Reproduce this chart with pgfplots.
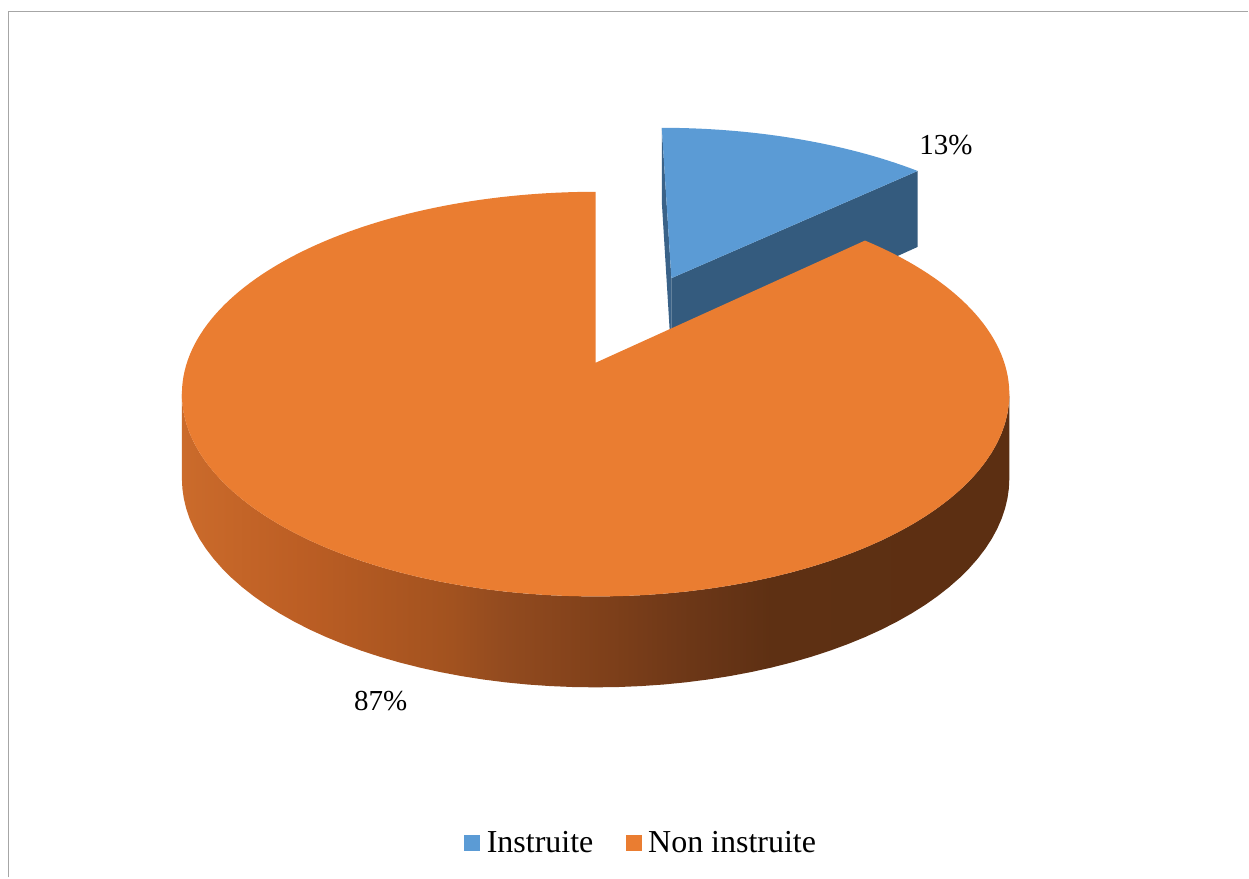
\documentclass[border=0pt]{standalone}
\usepackage{fontspec}
\setmainfont{Liberation Serif}
\usepackage{pgfplots}
\pgfplotsset{compat=1.18}
\usepackage{pgfplotstable}

\definecolor{blueTop}{HTML}{5B9BD5}
\definecolor{blueSide}{HTML}{345B7E}
\definecolor{blueSideB}{HTML}{3A6288}
\definecolor{orangeTop}{HTML}{EA7D31}
\definecolor{frameGray}{HTML}{A6A6A6}
\definecolor{osA}{HTML}{CB6B2B}
\definecolor{osB}{HTML}{BC5E24}
\definecolor{osC}{HTML}{A2521F}
\definecolor{osD}{HTML}{934B1F}
\definecolor{osE}{HTML}{7F401A}
\definecolor{osF}{HTML}{6A3617}
\definecolor{osG}{HTML}{5E3013}
\definecolor{osH}{HTML}{5C2F12}

\pgfdeclarehorizontalshading{orangeside}{100bp}{color(0bp)=(osA); color(25bp)=(osA); color(32.2bp)=(osB); color(41.3bp)=(osC); color(44.3bp)=(osD); color(50.4bp)=(osE); color(56.4bp)=(osF); color(60.6bp)=(osG); color(75bp)=(osH); color(100bp)=(osH)}

% perspective projection of the pie plane (image pixels, y upwards)
\tikzset{declare function={
  SX(\X,\Z)=596+409*\X/(1+0.155*\Z);
  SY(\X,\Z)=515+197.6*\Z/(1+0.155*\Z);
  SB(\X,\Z)=515+197.6*\Z/(1+0.155*\Z)-83.3/(1+0.0842*\Z);
  WR(\t)=ifthenelse(\t<0,0,1);
  WTH(\t,\a,\b,\n)=\a+max(\t,0)*(\b-\a)/\n;
  OTH(\t)=ifthenelse(\t<60.5,98.9+\t*2.70333,261.1-(\t-61)*2.70333);
}}

\pgfplotstableread[col sep=comma,row sep=\\]{label,value\\Instruite,13\\Non instruite,87\\}\piedata
\pgfplotstablegetelem{0}{value}\of\piedata \let\vA\pgfplotsretval
\pgfplotstablegetelem{1}{value}\of\piedata \let\vB\pgfplotsretval
\pgfplotstablegetelem{0}{label}\of\piedata \let\lA\pgfplotsretval
\pgfplotstablegetelem{1}{label}\of\piedata \let\lB\pgfplotsretval

\pgfmathsetmacro\angA{360*\vA/(\vA+\vB)}
\pgfmathsetmacro\angM{\angA/2}
\pgfmathsetmacro\ox{0.5*sin(\angM)}
\pgfmathsetmacro\oz{0.5*cos(\angM)}
\pgfmathsetmacro\rX{\ox+sin(\angA)}
\pgfmathsetmacro\rZ{\oz+cos(\angA)}
\pgfmathsetmacro\fX{\ox}
\pgfmathsetmacro\fZ{\oz+1}
\pgfmathsetmacro\cTx{SX(\ox,\oz)}
\pgfmathsetmacro\cTy{SY(\ox,\oz)}
\pgfmathsetmacro\cBy{SB(\ox,\oz)}
\pgfmathsetmacro\rTx{SX(\rX,\rZ)}
\pgfmathsetmacro\rTy{SY(\rX,\rZ)}
\pgfmathsetmacro\rBy{SB(\rX,\rZ)}
\pgfmathsetmacro\fTx{SX(\fX,\fZ)}
\pgfmathsetmacro\fTy{SY(\fX,\fZ)}
\pgfmathsetmacro\fBy{SB(\fX,\fZ)}

\begin{document}
\begin{tikzpicture}
\begin{axis}[
  scale only axis, width=624.5pt, height=439pt,
  xmin=0, xmax=1249, ymin=0, ymax=878,
  hide axis, clip=false,
  legend style={draw=none, fill=none, at={(0.5155,0.0387)}, anchor=center,
    legend columns=2, font=\fontsize{16}{19}\selectfont,
    /tikz/every even column/.append style={column sep=13pt},
    inner sep=0pt, nodes={inner sep=3.2pt}, cells={anchor=west}},
  legend image code/.code={\fill[#1] (0pt,-4pt) rectangle (8pt,4pt);},
]
\path (axis cs:0,0) rectangle (axis cs:1249,878);
\draw[frameGray, line width=0.8pt] (axis cs:8.5,0) -- (axis cs:8.5,866.5) -- (axis cs:1249,866.5);

% exploded blue slice: radial faces
\addplot[fill=blueSideB, draw=none, forget plot] coordinates {(\cTx,\cTy) (\fTx,\fTy) (\fTx,\fBy) (\cTx,\cBy)};
\addplot[fill=blueSide, draw=none, forget plot] coordinates {(\cTx,\cTy) (\rTx,\rTy) (\rTx,\rBy) (\cTx,\cBy)};
% blue top face
\addplot[fill=blueTop, draw=none, variable=\t, samples at={-1,0,1,...,60}]
  ({SX(\ox+WR(\t)*sin(WTH(\t,0,\angA,60)), \oz+WR(\t)*cos(WTH(\t,0,\angA,60)))},
   {SY(\ox+WR(\t)*sin(WTH(\t,0,\angA,60)), \oz+WR(\t)*cos(WTH(\t,0,\angA,60)))});
\addlegendentry{\lA}

% orange side (front rim)
\addplot[shade, shading=orangeside, draw=none, forget plot, variable=\t, samples at={0,1,...,121}]
  ({SX(sin(OTH(\t)), cos(OTH(\t)))},
   {ifthenelse(\t<60.5, SY(sin(OTH(\t)), cos(OTH(\t))), SB(sin(OTH(\t)), cos(OTH(\t))))});
% orange top face
\addplot[fill=orangeTop, draw=none, variable=\t, samples at={-1,0,1,...,200}]
  ({SX(WR(\t)*sin(WTH(\t,\angA,360,200)), WR(\t)*cos(WTH(\t,\angA,360,200)))},
   {SY(WR(\t)*sin(WTH(\t,\angA,360,200)), WR(\t)*cos(WTH(\t,\angA,360,200)))});
\addlegendentry{\lB}

\node[anchor=base, font=\fontsize{14.5}{17}\selectfont, inner sep=0pt] at (axis cs:946.5,723) {\vA\%};
\node[anchor=base, font=\fontsize{14.5}{17}\selectfont, inner sep=0pt] at (axis cs:381,167) {\vB\%};
\end{axis}
\end{tikzpicture}
\end{document}
